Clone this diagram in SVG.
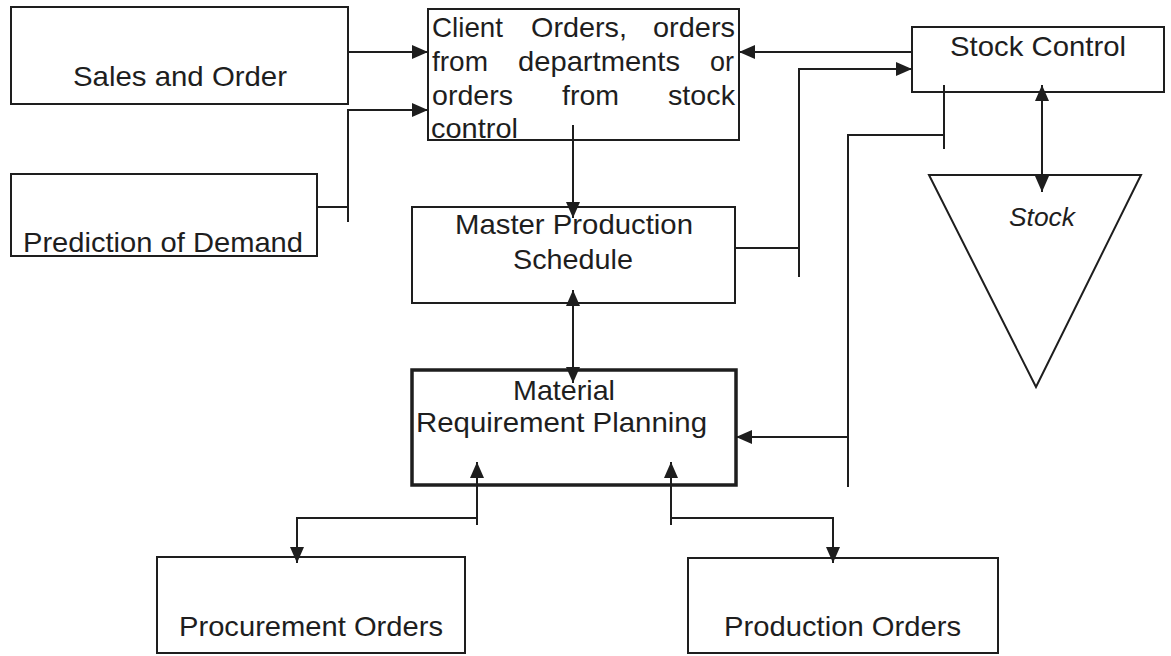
<svg xmlns="http://www.w3.org/2000/svg" width="1171" height="656" viewBox="0 0 1171 656">
  <style>
    .box { fill: #fff; stroke: #1e1e1e; stroke-width: 2; }
    .thick { stroke-width: 3.5; }
    .lbl { font-family: "Liberation Sans", Arial, sans-serif; font-size: 28px; fill: #1e1e1e; }
    .it { font-style: italic; font-size: 25px; }
    .wire { fill: none; stroke: #1e1e1e; stroke-width: 2; }
  </style>
  <defs>
    <marker id="arrow" markerUnits="userSpaceOnUse" markerWidth="16" markerHeight="14" viewBox="0 0 16 14" refX="16" refY="7" orient="auto-start-reverse">
      <path d="M0,0 L16,7 L0,14 Z" fill="#1e1e1e"/>
    </marker>
  </defs>
  <rect width="1171" height="656" fill="#fff"/>

  <g id="sales-order">
    <rect class="box" x="11" y="7" width="337" height="97"/>
    <text class="lbl" x="73" y="86" textLength="214" lengthAdjust="spacingAndGlyphs">Sales and Order</text>
  </g>

  <g id="prediction-demand">
    <rect class="box" x="11" y="174" width="306" height="82"/>
    <text class="lbl" x="23" y="252" textLength="280" lengthAdjust="spacingAndGlyphs">Prediction of Demand</text>
  </g>

  <g id="client-orders">
    <rect class="box" x="428" y="9" width="311" height="131"/>
    <text class="lbl" x="432" y="37" textLength="71" lengthAdjust="spacingAndGlyphs">Client</text>
    <text class="lbl" x="531" y="37" textLength="96" lengthAdjust="spacingAndGlyphs">Orders,</text>
    <text class="lbl" x="653" y="37" textLength="82" lengthAdjust="spacingAndGlyphs">orders</text>
    <text class="lbl" x="432" y="71" textLength="56" lengthAdjust="spacingAndGlyphs">from</text>
    <text class="lbl" x="518" y="71" textLength="162" lengthAdjust="spacingAndGlyphs">departments</text>
    <text class="lbl" x="710" y="71" textLength="24" lengthAdjust="spacingAndGlyphs">or</text>
    <text class="lbl" x="432" y="105" textLength="81" lengthAdjust="spacingAndGlyphs">orders</text>
    <text class="lbl" x="562" y="105" textLength="57" lengthAdjust="spacingAndGlyphs">from</text>
    <text class="lbl" x="668" y="105" textLength="67" lengthAdjust="spacingAndGlyphs">stock</text>
    <text class="lbl" x="431" y="138" textLength="87" lengthAdjust="spacingAndGlyphs">control</text>
  </g>

  <g id="master-production-schedule">
    <rect class="box" x="412" y="207" width="323" height="96"/>
    <text class="lbl" x="455" y="234" textLength="238" lengthAdjust="spacingAndGlyphs">Master Production</text>
    <text class="lbl" x="513" y="269" textLength="120" lengthAdjust="spacingAndGlyphs">Schedule</text>
  </g>

  <g id="stock-control">
    <rect class="box" x="912" y="27" width="252" height="65"/>
    <text class="lbl" x="950" y="56" textLength="176" lengthAdjust="spacingAndGlyphs">Stock Control</text>
  </g>

  <g id="stock">
    <polygon class="box" points="929,175 1141,175 1036,387"/>
    <text class="lbl it" x="1009" y="226" textLength="66" lengthAdjust="spacingAndGlyphs">Stock</text>
  </g>

  <g id="material-requirement-planning">
    <rect class="box thick" x="412" y="370" width="324" height="115"/>
    <text class="lbl" x="513" y="400" textLength="102" lengthAdjust="spacingAndGlyphs">Material</text>
    <text class="lbl" x="416" y="432" textLength="291" lengthAdjust="spacingAndGlyphs">Requirement Planning</text>
  </g>

  <g id="procurement-orders">
    <rect class="box" x="157" y="557" width="308" height="96"/>
    <text class="lbl" x="179" y="636" textLength="264" lengthAdjust="spacingAndGlyphs">Procurement Orders</text>
  </g>

  <g id="production-orders">
    <rect class="box" x="688" y="558" width="310" height="95"/>
    <text class="lbl" x="724" y="636" textLength="237" lengthAdjust="spacingAndGlyphs">Production Orders</text>
  </g>

  <g id="connectors">
    <!-- sales and prediction feed the order intake -->
    <path class="wire" d="M348,52 H428" marker-end="url(#arrow)"/>
    <path class="wire" d="M317,207 H348"/>
    <path class="wire" d="M348,222 V110 H428" marker-end="url(#arrow)"/>
    <!-- orders to master schedule -->
    <path class="wire" d="M573,125 V218" marker-end="url(#arrow)"/>
    <!-- master schedule and MRP -->
    <path class="wire" d="M573,290 V383" marker-start="url(#arrow)" marker-end="url(#arrow)"/>
    <!-- master schedule to stock control -->
    <path class="wire" d="M735,248 H799"/>
    <path class="wire" d="M799,277 V69 H912" marker-end="url(#arrow)"/>
    <!-- stock control back to orders -->
    <path class="wire" d="M912,52 H739" marker-end="url(#arrow)"/>
    <!-- stock control to MRP -->
    <path class="wire" d="M944,85 V149"/>
    <path class="wire" d="M944,135 H848 V487"/>
    <path class="wire" d="M848,437 H736" marker-end="url(#arrow)"/>
    <!-- stock control and stock -->
    <path class="wire" d="M1042,85 V192" marker-start="url(#arrow)" marker-end="url(#arrow)"/>
    <!-- MRP and order outputs -->
    <path class="wire" d="M477,525 V462" marker-end="url(#arrow)"/>
    <path class="wire" d="M477,518 H297 V563" marker-end="url(#arrow)"/>
    <path class="wire" d="M671,525 V462" marker-end="url(#arrow)"/>
    <path class="wire" d="M671,518 H833 V563" marker-end="url(#arrow)"/>
  </g>
</svg>
